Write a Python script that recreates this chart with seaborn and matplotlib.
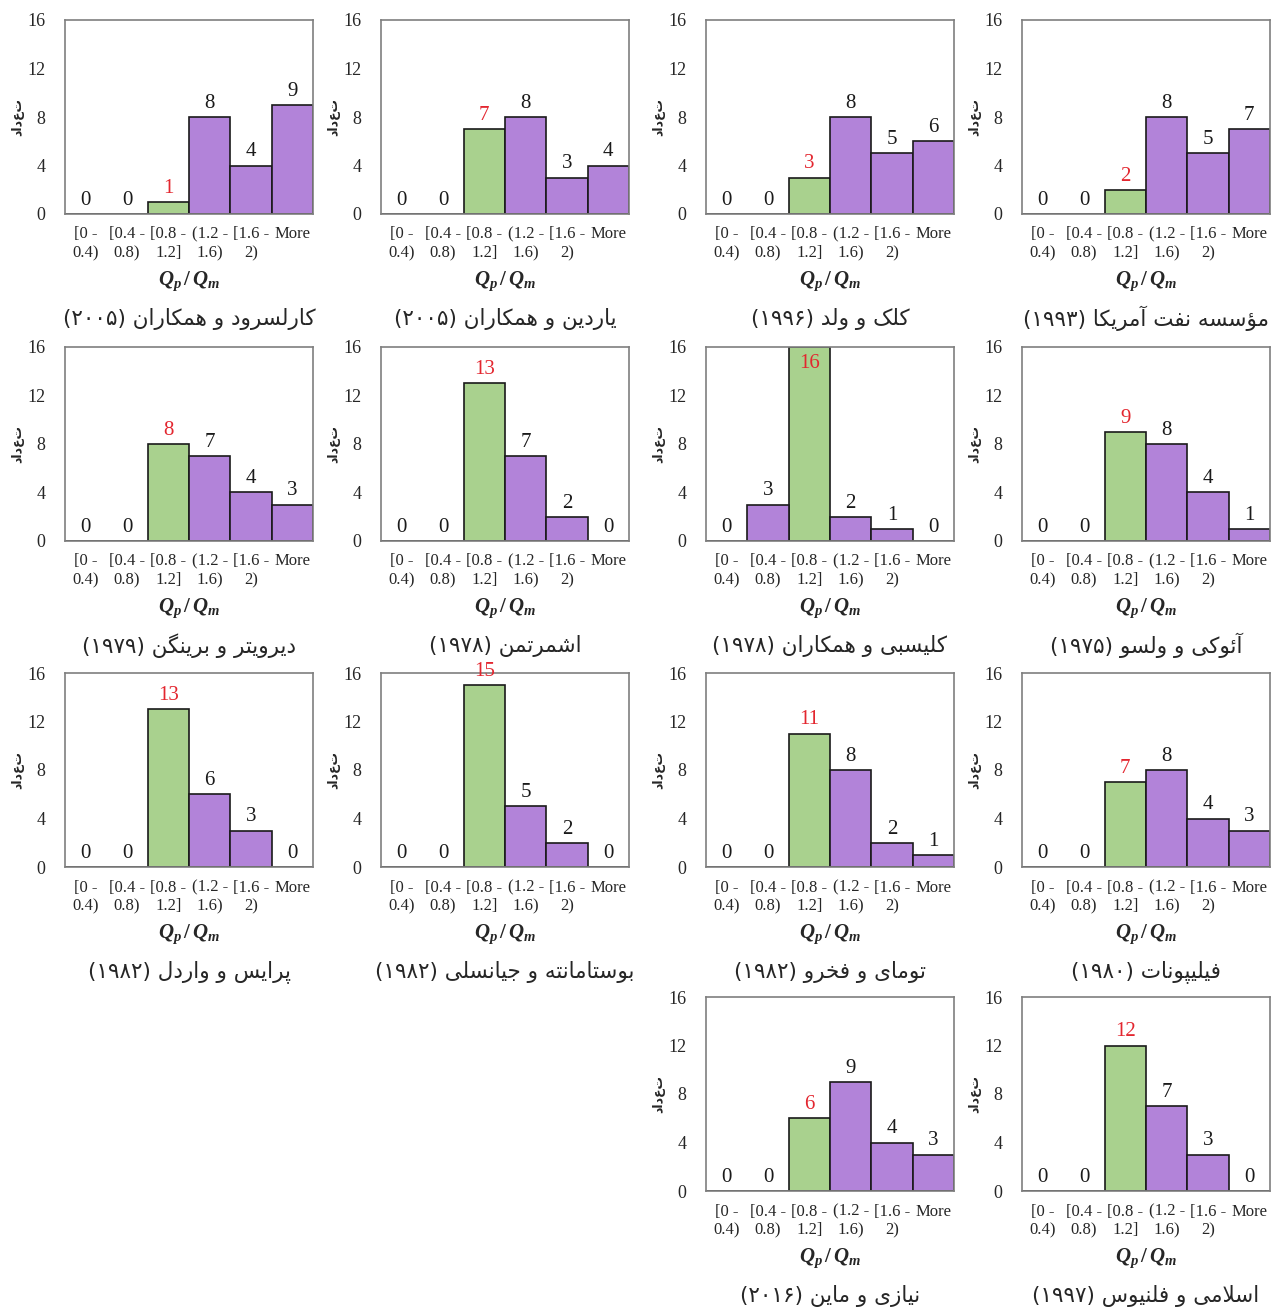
import matplotlib
matplotlib.use('Agg')
import matplotlib.pyplot as plt
import seaborn as sns
import pandas as pd

# bins of Qp/Qm
bins = ['[0 -\n0.4)', '[0.4 -\n0.8)', '[0.8 -\n1.2]', '(1.2 -\n1.6)', '[1.6 -\n2)', 'More']
good_bin = '[0.8 -\n1.2]'

# study names (logical order) and years
names = ['کارلسرود و همکاران', 'یاردین و همکاران', 'کلک و ولد', 'مؤسسه نفت آمریکا',
         'دیرویتر و برینگن', 'اشمرتمن', 'کلیسبی و همکاران', 'آئوکی و ولسو',
         'پرایس و واردل', 'بوستامانته و جیانسلی', 'تومای و فخرو', 'فیلیپونات',
         'نیازی و ماین', 'اسلامی و فلنیوس']
years = ['۲۰۰۵', '۲۰۰۵', '۱۹۹۶', '۱۹۹۳',
         '۱۹۷۹', '۱۹۷۸', '۱۹۷۸', '۱۹۷۵',
         '۱۹۸۲', '۱۹۸۲', '۱۹۸۲', '۱۹۸۰',
         '۲۰۱۶', '۱۹۹۷']

# counts per bin
karlsrud = [0, 0, 1, 8, 4, 9]
yardin = [0, 0, 7, 8, 3, 4]
kolk = [0, 0, 3, 8, 5, 6]
api = [0, 0, 2, 8, 5, 7]
deruiter = [0, 0, 8, 7, 4, 3]
schmertmann = [0, 0, 13, 7, 2, 0]
clisby = [0, 3, 16, 2, 1, 0]
aoki = [0, 0, 9, 8, 4, 1]
price = [0, 0, 13, 6, 3, 0]
bustamante = [0, 0, 15, 5, 2, 0]
tumay = [0, 0, 11, 8, 2, 1]
philipponnat = [0, 0, 7, 8, 4, 3]
niazi = [0, 0, 6, 9, 4, 3]
eslami = [0, 0, 12, 7, 3, 0]

counts = [karlsrud, yardin, kolk, api, deruiter, schmertmann, clisby, aoki,
          price, bustamante, tumay, philipponnat, niazi, eslami]
# grid slot (row, col) of each panel
slots = [(0, 0), (0, 1), (0, 2), (0, 3), (1, 0), (1, 1), (1, 2), (1, 3),
         (2, 0), (2, 1), (2, 2), (2, 3), (3, 2), (3, 3)]

# simple persian shaping (matplotlib has no text shaping)
FORMS = {
    'ا': ('\uFE8D', '\uFE8E'), 'آ': ('\uFE81', '\uFE82'), 'د': ('\uFEA9', '\uFEAA'),
    'ر': ('\uFEAD', '\uFEAE'), 'ز': ('\uFEAF', '\uFEB0'), 'و': ('\uFEED', '\uFEEE'),
    'ؤ': ('\uFE85', '\uFE86'),
    'ب': ('\uFE8F', '\uFE90', '\uFE91', '\uFE92'), 'پ': ('\uFB56', '\uFB57', '\uFB58', '\uFB59'),
    'ت': ('\uFE95', '\uFE96', '\uFE97', '\uFE98'), 'ج': ('\uFE9D', '\uFE9E', '\uFE9F', '\uFEA0'),
    'خ': ('\uFEA5', '\uFEA6', '\uFEA7', '\uFEA8'), 'س': ('\uFEB1', '\uFEB2', '\uFEB3', '\uFEB4'),
    'ش': ('\uFEB5', '\uFEB6', '\uFEB7', '\uFEB8'), 'ف': ('\uFED1', '\uFED2', '\uFED3', '\uFED4'),
    'ک': ('\uFB8E', '\uFB8F', '\uFB90', '\uFB91'), 'گ': ('\uFB92', '\uFB93', '\uFB94', '\uFB95'),
    'ل': ('\uFEDD', '\uFEDE', '\uFEDF', '\uFEE0'),
    'م': ('\uFEE1', '\uFEE2', '\uFEE3', '\uFEE4'), 'ن': ('\uFEE5', '\uFEE6', '\uFEE7', '\uFEE8'),
    'ه': ('\uFEE9', '\uFEEA', '\uFEEB', '\uFEEC'), 'ی': ('\uFBFC', '\uFBFD', '\uFBFE', '\uFBFF'),
    'ئ': ('\uFE89', '\uFE8A', '\uFE8B', '\uFE8C'),
}
LAM_ALEF = {'ا': ('\uFEFB', '\uFEFC'), 'آ': ('\uFEF5', '\uFEF6')}


def shape(s):
    out = []
    i = 0
    while i < len(s):
        c = s[i]
        prev = s[i - 1] if i > 0 else ''
        join_prev = prev in FORMS and len(FORMS[prev]) == 4
        if c == 'ل' and i + 1 < len(s) and s[i + 1] in LAM_ALEF:
            out.append(LAM_ALEF[s[i + 1]][1 if join_prev else 0])
            i += 2
            continue
        if c not in FORMS:
            out.append(c)
            i += 1
            continue
        f = FORMS[c]
        nxt = s[i + 1] if i + 1 < len(s) else ''
        join_next = len(f) == 4 and nxt in FORMS
        if join_prev and join_next:
            out.append(f[3])
        elif join_prev:
            out.append(f[1])
        elif join_next:
            out.append(f[2])
        else:
            out.append(f[0])
        i += 1
    return ''.join(out)[::-1]


sns.set_style('white')
plt.rcParams['font.family'] = ['Liberation Serif', 'DejaVu Sans']
plt.rcParams['mathtext.fontset'] = 'custom'
plt.rcParams['mathtext.it'] = 'Liberation Serif:italic:bold'
plt.rcParams['mathtext.rm'] = 'Liberation Serif:bold'

green = '#a9d18e'
purple = '#b283d9'

fig = plt.figure(figsize=(12.74, 13.07), dpi=100)
W, H = 1274, 1307
col_left = [65, 381, 706, 1022]
row_top = [20, 347, 673, 997]
aw, ah = 248, 194

for name, year, vals, (r, c) in zip(names, years, counts, slots):
    ax = fig.add_axes([col_left[c] / W, 1 - (row_top[r] + ah) / H, aw / W, ah / H])
    df = pd.DataFrame({'bin': bins, 'n': vals,
                       'grp': ['in' if b == good_bin else 'out' for b in bins]})
    sns.barplot(data=df, x='bin', y='n', hue='grp', hue_order=['in', 'out'],
                palette={'in': green, 'out': purple}, dodge=False, width=1,
                saturation=1, edgecolor='#1a1a1a', linewidth=1.2, legend=False, ax=ax)
    ax.set_ylim(0, 16)
    ax.set_xlim(-0.5, 5.5)
    ax.set_yticks([0, 4, 8, 12, 16])
    ax.tick_params(length=0, labelsize=13, labelcolor='#262626', pad=14)
    ax.tick_params(axis='x', labelsize=12, pad=9)
    for sp in ax.spines.values():
        sp.set_visible(True)
        sp.set_color('#7f7f7f')
        sp.set_linewidth(1.2)
    for i, (b, v) in enumerate(zip(bins, vals)):
        col = '#e3262f' if b == good_bin else '#1a1a1a'
        if v >= 16:
            ax.annotate(str(v), (i, v), xytext=(0, -5), textcoords='offset points',
                        ha='center', va='top', fontsize=15, color=col)
        else:
            ax.annotate(str(v), (i, v), xytext=(0, 3), textcoords='offset points',
                        ha='center', va='bottom', fontsize=15, color=col,
                        annotation_clip=False)
    ax.set_xlabel(r'$Q_p\,/\,Q_m$', fontsize=15, labelpad=6)
    ax.set_ylabel(shape('تعداد'), fontsize=9, fontweight='bold',
                  family='DejaVu Sans', labelpad=2)
    ax.text(0.5, -0.54, '(' + year + ') ' + shape(name), transform=ax.transAxes,
            ha='center', va='center', fontsize=15.5, family='DejaVu Sans')

fig.savefig('out.png', dpi=100)
